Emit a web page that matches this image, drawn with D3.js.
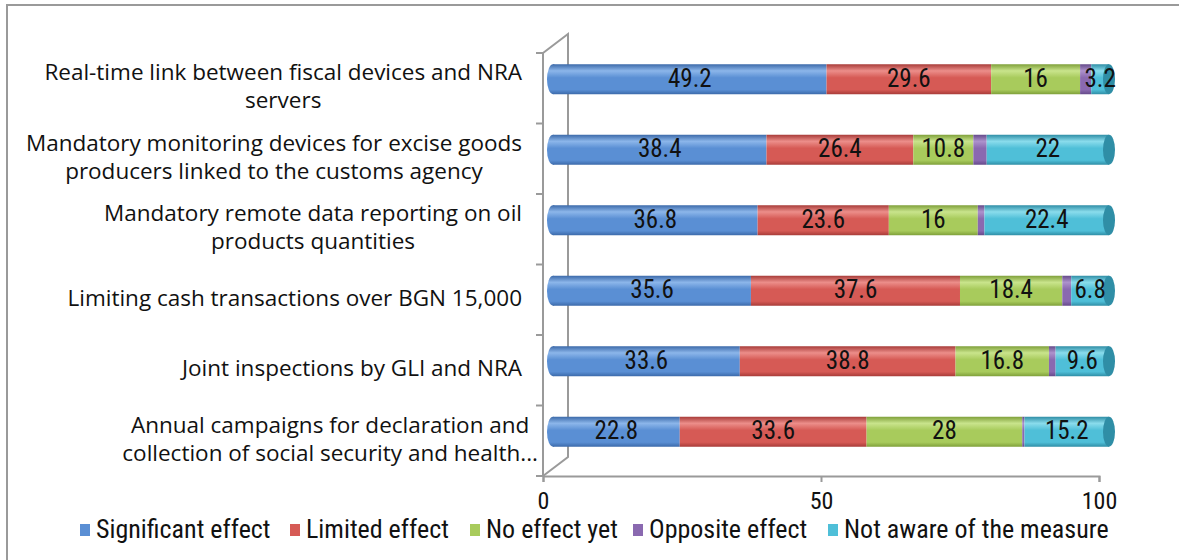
<!DOCTYPE html>
<html>
<head>
<meta charset="utf-8">
<script src="https://cdn.jsdelivr.net/npm/d3@7"></script>
<style>
  html, body { margin: 0; padding: 0; background: #fff; }
  svg { display: block; }
</style>
</head>
<body>
<svg id="chart" width="1179" height="560"></svg>
<script>
// Survey: perceived effect of anti-evasion measures (% of respondents)
const categories = [
  "Real-time link between fiscal devices and NRA servers",
  "Mandatory monitoring devices for excise goods producers linked to the customs agency",
  "Mandatory remote data reporting on oil products quantities",
  "Limiting cash transactions over BGN 15,000",
  "Joint inspections by GLI and NRA",
  "Annual campaigns for declaration and collection of social security and health..."
];
const categoryLines = [
  ["Real-time link between fiscal devices and NRA", "servers"],
  ["Mandatory monitoring devices for excise goods", "producers linked to the customs agency"],
  ["Mandatory remote data reporting on oil", "products quantities"],
  ["Limiting cash transactions over BGN 15,000"],
  ["Joint inspections by GLI and NRA"],
  ["Annual campaigns for declaration and", "collection of social security and health..."]
];
const seriesNames = ["Significant effect", "Limited effect", "No effect yet", "Opposite effect", "Not aware of the measure"];
const significant = [49.2, 38.4, 36.8, 35.6, 33.6, 22.8];
const limited     = [29.6, 26.4, 23.6, 37.6, 38.8, 33.6];
const noEffect    = [16, 10.8, 16, 18.4, 16.8, 28];
const opposite    = [2.0, 2.4, 1.2, 1.6, 1.2, 0.4];
const notAware    = [3.2, 22, 22.4, 6.8, 9.6, 15.2];
const labelled    = [true, true, true, false, true];
const xTicks = [0, 50, 100];

const seriesValues = [significant, limited, noEffect, opposite, notAware];
const colors = ["#5a8fd4", "#d65a55", "#a8cb5c", "#8a69b0", "#4fbfd8"];
const darks  = ["#3c6aaa", "#a83c39", "#7fa03a", "#654a8a", "#2f8ea6"];
const lights = ["#8cb6ea", "#ec8e8a", "#c9e48c", "#ad92cc", "#8adcec"];

const narrowFont = "'Liberation Sans Narrow', 'Arial Narrow', 'Roboto Condensed', sans-serif";
const svg = d3.select("#chart");
const axisColor = "#9a9a9a";

// outer frame
svg.append("path")
  .attr("d", "M7,560 V5 H1179")
  .attr("fill", "none").attr("stroke", axisColor).attr("stroke-width", 2);

// plot geometry (front plane) and depth offset of the back wall
const x = d3.scaleLinear().domain([0, 100]).range([543, 1099]);
const y = d3.scaleBand().domain(categories).range([53, 476]);
const depthX = 25, depthY = -19;
const barDx = 10, barDy = -9, barH = 30;

// gradients for the cylinder shading
const defs = svg.append("defs");
colors.forEach((c, i) => {
  const g = defs.append("linearGradient").attr("id", "cyl" + i)
    .attr("x1", 0).attr("y1", 0).attr("x2", 0).attr("y2", 1);
  g.append("stop").attr("offset", "0%").attr("stop-color", darks[i]);
  g.append("stop").attr("offset", "22%").attr("stop-color", lights[i]);
  g.append("stop").attr("offset", "45%").attr("stop-color", c);
  g.append("stop").attr("offset", "85%").attr("stop-color", c);
  g.append("stop").attr("offset", "100%").attr("stop-color", darks[i]);
});

// walls / axes
const walls = svg.append("g").attr("stroke", axisColor).attr("stroke-width", 2).attr("fill", "none");
const x0 = x(0), yTop = y.range()[0], yBot = y.range()[1];
walls.append("path").attr("d", `M${x0},${yTop} L${x0 + depthX},${yTop + depthY} V${yBot + depthY} L${x0},${yBot}`);
walls.append("line").attr("x1", x0).attr("x2", x0).attr("y1", yTop).attr("y2", yBot);
// category boundary ticks
const bounds = categories.map(c => y(c)).concat([yBot]);
walls.selectAll(".ctick").data(bounds).join("line")
  .attr("x1", x0 - 7).attr("x2", x0).attr("y1", d => d).attr("y2", d => d);

// value axis
const xAxis = d3.axisBottom(x).tickValues(xTicks).tickSize(6).tickPadding(10).tickFormat(d3.format("d"));
const gx = svg.append("g").attr("transform", `translate(0,${yBot})`).call(xAxis);
gx.select(".domain").attr("stroke", axisColor).attr("stroke-width", 2);
gx.selectAll(".tick line").attr("stroke", axisColor).attr("stroke-width", 2);
gx.selectAll(".tick text")
  .attr("font-family", narrowFont)
  .attr("font-size", 24).attr("fill", "#111").attr("dy", "0.72em");

// stacked data
const rows = categories.map((c, i) => {
  let acc = 0;
  return seriesValues.map((vals, s) => {
    const seg = { cat: c, s, v: vals[i], x0: acc, x1: acc + vals[i] };
    acc += vals[i];
    return seg;
  });
});

const bx = v => x(v) + barDx;
const capRx = 6;
const barsG = svg.append("g");
rows.forEach((segs, i) => {
  const cy = y(categories[i]) + y.bandwidth() / 2 + barDy;
  const top = cy - barH / 2;
  const g = barsG.append("g");
  // left rounded end
  g.append("ellipse").attr("cx", bx(0)).attr("cy", cy).attr("rx", capRx).attr("ry", barH / 2)
    .attr("fill", "url(#cyl0)");
  g.selectAll("rect").data(segs).join("rect")
    .attr("x", d => bx(d.x0)).attr("y", top)
    .attr("width", d => Math.max(0, bx(d.x1) - bx(d.x0)))
    .attr("height", barH)
    .attr("fill", d => `url(#cyl${d.s})`);
  const last = segs[segs.length - 1];
  g.append("ellipse").attr("cx", bx(last.x1)).attr("cy", cy).attr("rx", capRx).attr("ry", barH / 2)
    .attr("fill", darks[last.s]);
  g.selectAll("text").data(segs.filter(d => labelled[d.s])).join("text")
    .attr("x", d => (bx(d.x0) + bx(d.x1)) / 2)
    .attr("y", cy + 1)
    .attr("text-anchor", "middle").attr("dominant-baseline", "middle")
    .attr("font-family", narrowFont)
    .attr("font-size", 25).attr("fill", "#111")
    .text(d => d3.format("~g")(d.v));
});

// category labels: block right-aligned, lines centred inside the block
const labelFont = "'Open Sans', 'Noto Sans', sans-serif";
const labG = svg.append("g");
categoryLines.forEach((lines, i) => {
  const cy = y(categories[i]) + y.bandwidth() / 2;
  const lh = 28;
  const g = labG.append("g");
  const texts = g.selectAll("text").data(lines).join("text")
    .attr("font-family", labelFont).attr("font-size", 22.5).attr("fill", "#111")
    .attr("dominant-baseline", "middle")
    .attr("y", (d, k) => cy + (k - (lines.length - 1) / 2) * lh)
    .text(d => d);
  const widths = texts.nodes().map(n => n.getComputedTextLength());
  const blockW = d3.max(widths);
  const right = i === 5 ? 538 : 522;
  const cx = right - blockW / 2;
  texts.attr("x", cx).attr("text-anchor", "middle");
});

// legend
const legend = svg.append("g").attr("transform", "translate(0,531)");
const legendX = [80, 290, 470, 633, 828];
seriesNames.forEach((n, i) => {
  const g = legend.append("g").attr("transform", `translate(${legendX[i]},0)`);
  g.append("rect").attr("x", 0).attr("y", -7).attr("width", 10).attr("height", 12).attr("fill", colors[i]);
  g.append("text").attr("x", 16).attr("y", 0).attr("dominant-baseline", "middle")
    .attr("font-family", narrowFont)
    .attr("font-size", 26).attr("fill", "#111").text(n);
});
</script>
</body>
</html>
